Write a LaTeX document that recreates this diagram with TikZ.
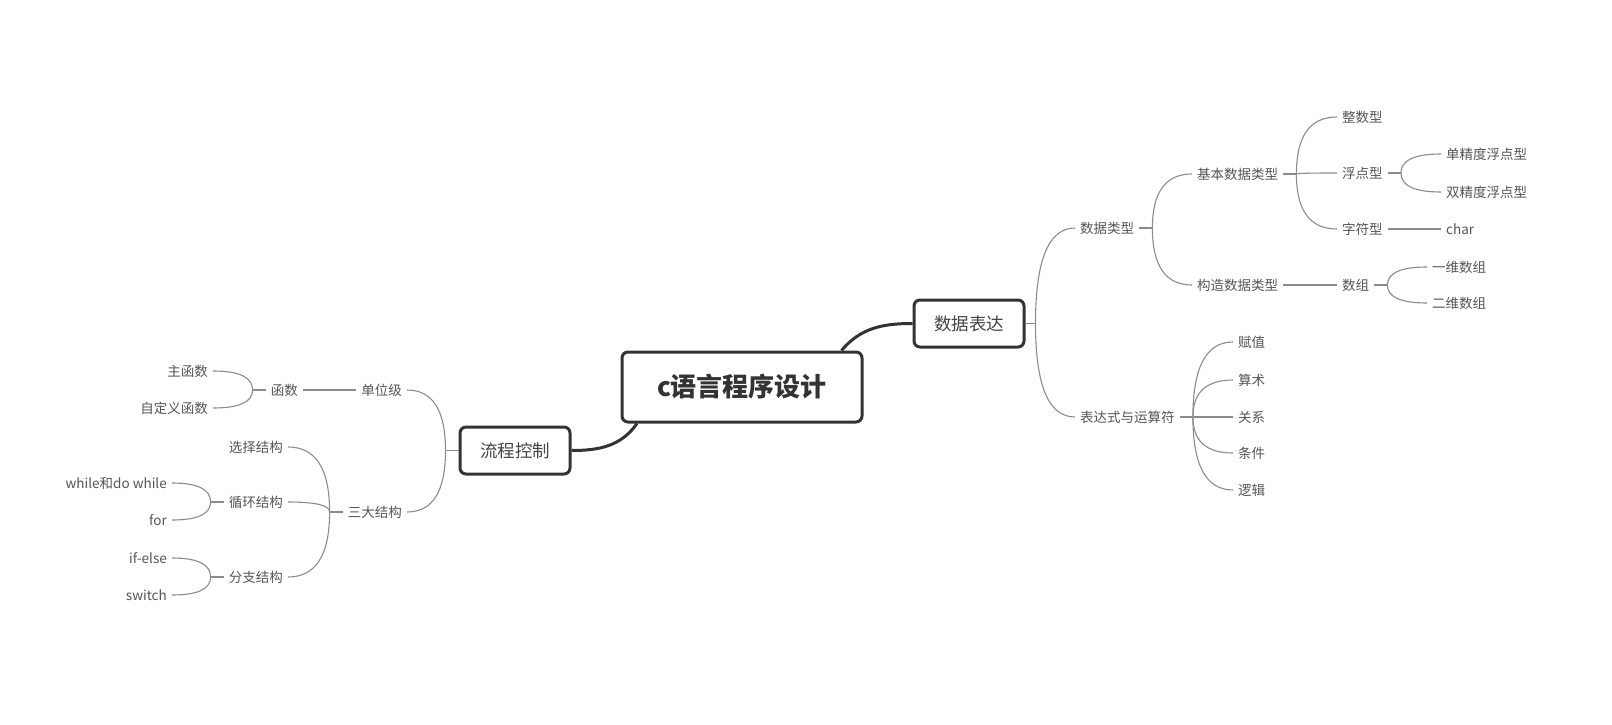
\documentclass[tikz,border=0pt]{standalone}
\usepackage{fontspec}
\setmainfont{Noto Sans CJK SC}
\usetikzlibrary{calc}
\definecolor{boxc}{HTML}{333333}
\definecolor{linec}{HTML}{8C8C8C}
\definecolor{txtc}{HTML}{555555}
\definecolor{boxtxt}{HTML}{444444}
\tikzset{
  lbl/.style={inner xsep=5pt, inner ysep=2pt, text=txtc, font=\fontsize{13.5}{15}\selectfont},
  lblR/.style={lbl, anchor=west},
  lblL/.style={lbl, anchor=east},
  mainbox/.style={draw=boxc, line width=3pt, rounded corners=6pt, fill=white, text=boxtxt,
    font=\fontsize{17.5}{20}\selectfont, minimum width=110pt, minimum height=47pt, inner sep=0pt},
  rootbox/.style={mainbox, minimum width=240pt, minimum height=70pt,
    font=\fontsize{26}{30}\selectfont\bfseries, text=boxc},
  conn/.style={draw=linec, line width=1.1pt},
  trunk/.style={draw=boxc, line width=3pt},
}
\begin{document}
\begin{tikzpicture}[x=1pt,y=-1pt]
\useasboundingbox (0,0) rectangle (1612,725);
% main boxes
\node[rootbox] (root) at (742,387) {c语言程序设计};
\node[mainbox] (lc) at (515,450.5) {流程控制};
\node[mainbox] (sj) at (969,323.5) {数据表达};
% right side labels
\node[lblR] (lx) at (1075,228) {数据类型};
\node[lblR] (jb) at (1192,174) {基本数据类型};
\node[lblR] (gz) at (1192,285) {构造数据类型};
\node[lblR] (zs) at (1337,117) {整数型};
\node[lblR] (fd) at (1337,173) {浮点型};
\node[lblR] (zf) at (1337,229) {字符型};
\node[lblR] (ch) at (1441,229) {char};
\node[lblR] (dj) at (1441,154) {单精度浮点型};
\node[lblR] (sjd) at (1441,192) {双精度浮点型};
\node[lblR] (sz) at (1337,285) {数组};
\node[lblR] (yw) at (1427,267) {一维数组};
\node[lblR] (ew) at (1427,303) {二维数组};
\node[lblR] (bd) at (1075,417) {表达式与运算符};
\node[lblR] (fz) at (1233,342) {赋值};
\node[lblR] (ss) at (1233,380) {算术};
\node[lblR] (gx) at (1233,417) {关系};
\node[lblR] (tj) at (1233,453) {条件};
\node[lblR] (lj) at (1233,490) {逻辑};
% left side labels
\node[lblL] (dw) at (407,390) {单位级};
\node[lblL] (sd) at (407,512) {三大结构};
\node[lblL] (hs) at (303,390) {函数};
\node[lblL] (zhs) at (213,371) {主函数};
\node[lblL] (zdy) at (213,408) {自定义函数};
\node[lblL] (xz) at (288,447) {选择结构};
\node[lblL] (xh) at (288,502) {循环结构};
\node[lblL] (fzj) at (288,577) {分支结构};
\node[lblL] (wh) at (172,483) {while和do while};
\node[lblL] (fo) at (172,520) {for};
\node[lblL] (ie) at (172,558) {if-else};
\node[lblL] (sw) at (172,595) {switch};
% trunk connectors
\coordinate (rA) at ([xshift=-22pt]root.north east);
\coordinate (rB) at ([xshift=-105pt]root.south);
\draw[trunk] (rA) to[out=50,in=180] (sj.west);
\draw[trunk] (rB) to[out=-125,in=0] (lc.east);
% fork points
\coordinate (fsj) at ([xshift=10pt]sj.east);
\coordinate (flx) at ([xshift=13pt]lx.east);
\coordinate (fjb) at ([xshift=13pt]jb.east);
\coordinate (ffd) at ([xshift=13pt]fd.east);
\coordinate (fsz) at ([xshift=13pt]sz.east);
\coordinate (fbd) at ([xshift=13pt]bd.east);
\coordinate (flc) at ([xshift=-13pt]lc.west);
\coordinate (fhs) at ([xshift=-13pt]hs.west);
\coordinate (fsd) at ([xshift=-13pt]sd.west);
\coordinate (fxh) at ([xshift=-13pt]xh.west);
\coordinate (ffz) at ([xshift=-13pt]fzj.west);
% stubs
\draw[conn] (sj.east) -- (fsj);
\draw[conn] (lx.east) -- (flx);
\draw[conn] (jb.east) -- (fjb);
\draw[conn] (fd.east) -- (ffd);
\draw[conn] (sz.east) -- (fsz);
\draw[conn] (bd.east) -- (fbd);
\draw[conn] (lc.west) -- (flc);
\draw[conn] (hs.west) -- (fhs);
\draw[conn] (sd.west) -- (fsd);
\draw[conn] (xh.west) -- (fxh);
\draw[conn] (fzj.west) -- (ffz);
% right curves (quadratic, control at corner)
\foreach \f/\c in {fsj/lx, fsj/bd, flx/jb, flx/gz, fjb/zs, fjb/fd, fjb/zf, ffd/dj, ffd/sjd, fsz/yw, fsz/ew, fbd/fz, fbd/ss, fbd/gx, fbd/tj, fbd/lj}
  \draw[conn] (\f) .. controls ($(\f)!0.667!(\f |- \c.west)$) and ($(\c.west)!0.667!(\f |- \c.west)$) .. (\c.west);
% left curves
\foreach \f/\c in {flc/dw, flc/sd, fhs/zhs, fhs/zdy, fsd/xz, fsd/xh, fsd/fzj, fxh/wh, fxh/fo, ffz/ie, ffz/sw}
  \draw[conn] (\f) .. controls ($(\f)!0.667!(\f |- \c.east)$) and ($(\c.east)!0.667!(\f |- \c.east)$) .. (\c.east);
% straight connectors
\draw[conn] (zf.east) -- (ch.west);
\draw[conn] (gz.east) -- (sz.west);
\draw[conn] (hs.east) -- (dw.west);
\end{tikzpicture}
\end{document}
